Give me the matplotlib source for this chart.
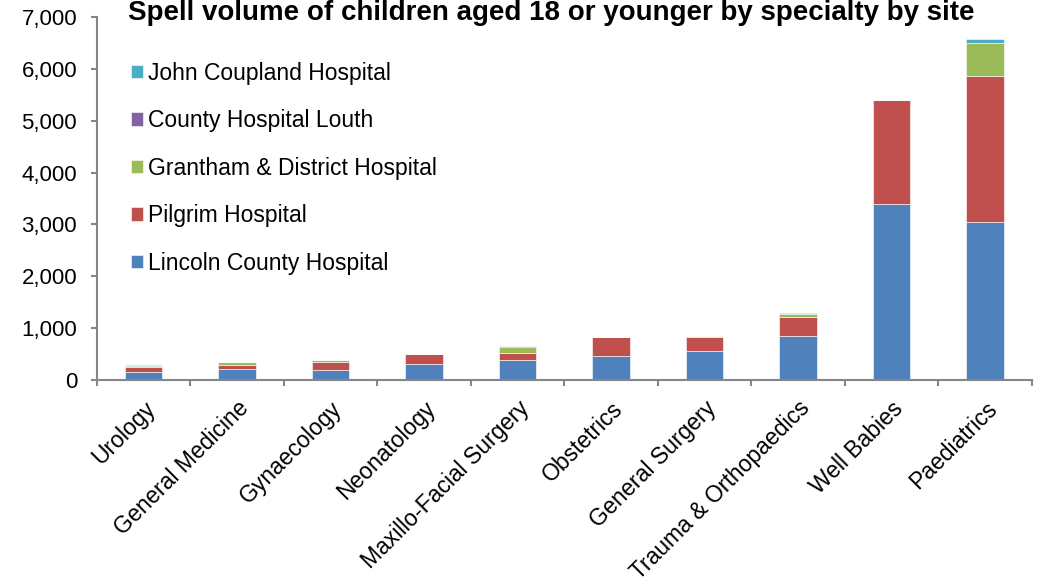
import matplotlib
matplotlib.use("Agg")
import matplotlib.pyplot as plt
import numpy as np

plt.rcParams['font.family'] = ['Liberation Sans', 'DejaVu Sans']

specialties = ["Urology", "General Medicine", "Gynaecology", "Neonatology",
               "Maxillo-Facial Surgery", "Obstetrics", "General Surgery",
               "Trauma & Orthopaedics", "Well Babies", "Paediatrics"]

lincoln = [160, 205, 190, 305, 385, 465, 560, 855, 3400, 3040]
pilgrim = [85, 80, 150, 200, 130, 360, 270, 355, 2000, 2830]
grantham = [25, 65, 50, 0, 115, 0, 20, 65, 0, 620]
louth = [5, 0, 0, 0, 30, 0, 0, 0, 0, 0]
john_coupland = [10, 0, 0, 0, 5, 0, 0, 25, 0, 80]

series = [
    ("Lincoln County Hospital", lincoln, "#4F81BD"),
    ("Pilgrim Hospital", pilgrim, "#C0504D"),
    ("Grantham & District Hospital", grantham, "#9BBB59"),
    ("County Hospital Louth", louth, "#8064A2"),
    ("John Coupland Hospital", john_coupland, "#4BACC6"),
]

yticks = [0, 1000, 2000, 3000, 4000, 5000, 6000, 7000]

axis_grey = "#868686"
fs = 16

fig = plt.figure(figsize=(10.37, 5.83), dpi=100)
ax = fig.add_axes([0.0935, 0.348, 0.9015, 0.623])

x = np.arange(len(specialties))
bottom = np.zeros(len(specialties))
for name, vals, color in series:
    vals = np.array(vals, dtype=float)
    ax.bar(x, vals, width=0.4, bottom=bottom, color=color, label=name,
           edgecolor="white", linewidth=0.4)
    bottom += vals

ax.set_xlim(-0.5, len(specialties) - 0.5)
ax.set_ylim(0, 7000)
ax.set_yticks(yticks)
ax.set_yticklabels([f"{v:,}" for v in yticks], fontsize=fs)

ax.set_xticks(x)
ax.set_xticklabels(specialties, rotation=45, ha="right", va="top",
                   rotation_mode="anchor", fontsize=16.5)
ax.tick_params(axis="x", which="major", length=0, pad=12)
ax.set_xticks(np.arange(-0.5, len(specialties)), minor=True)
ax.tick_params(axis="x", which="minor", length=4.3, color=axis_grey, width=1.5)
ax.tick_params(axis="y", length=4.3, color=axis_grey, width=1.5, pad=10)

for side in ["top", "right"]:
    ax.spines[side].set_visible(False)
for side in ["left", "bottom"]:
    ax.spines[side].set_color(axis_grey)
    ax.spines[side].set_linewidth(1.5)

handles, labels = ax.get_legend_handles_labels()
ax.legend(handles[::-1], labels[::-1], loc="upper left",
          bbox_to_anchor=(0.036, 0.877), frameon=False, fontsize=16.5,
          handlelength=0.55, handleheight=0.55, handletextpad=0.22,
          labelspacing=1.07, borderpad=0, borderaxespad=0)

fig.text(0.532, 1 - 20 / 583, "Spell volume of children aged 18 or younger by specialty by site",
         ha="center", va="baseline", fontsize=20, fontweight="bold")

fig.savefig("out.png", dpi=100)
